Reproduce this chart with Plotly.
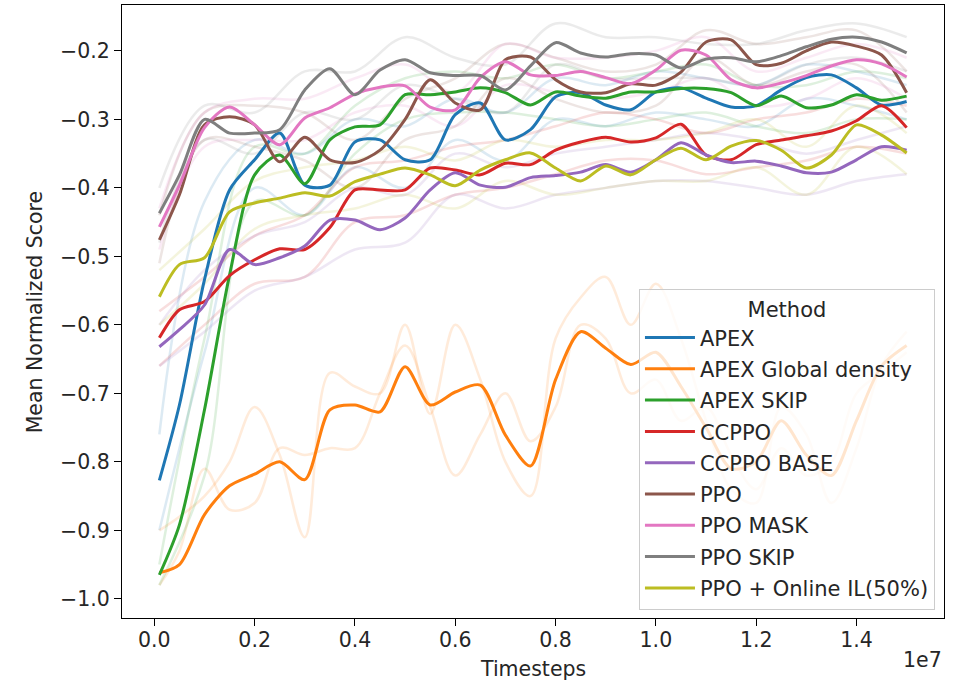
import plotly.graph_objects as go

# ---------------- data (timesteps in units of 1e6) ----------------
X = [0.1, 0.5, 1.0, 1.5, 2.0, 2.5, 3.0, 3.5, 4.0, 4.5, 5.0, 5.5, 6.0, 6.5, 7.0, 7.5,
     8.0, 8.5, 9.0, 9.5, 10.0, 10.5, 11.0, 11.5, 12.0, 12.5, 13.0, 13.5, 14.0, 14.5, 15.0]
SX = [0.1, 1, 2, 3, 4, 5, 6, 7, 8, 9, 10, 11, 12, 13, 14, 15]

METHODS = ["APEX", "APEX Global density", "APEX SKIP", "CCPPO", "CCPPO BASE",
           "PPO", "PPO MASK", "PPO SKIP", "PPO + Online IL(50%)"]
COLORS = ["#1f77b4", "#ff7f0e", "#2ca02c", "#d62728", "#9467bd",
          "#8c564b", "#e377c2", "#7f7f7f", "#bcbd22"]

apex = [-0.827, -0.717, -0.534, -0.403, -0.359, -0.320, -0.396, -0.396, -0.333, -0.330,
        -0.359, -0.359, -0.293, -0.276, -0.330, -0.315, -0.267, -0.261, -0.279, -0.286,
        -0.260, -0.254, -0.269, -0.282, -0.280, -0.257, -0.239, -0.235, -0.254, -0.279, -0.274]
apex_global = [-0.962, -0.950, -0.877, -0.835, -0.818, -0.800, -0.826, -0.724, -0.717, -0.727,
               -0.661, -0.717, -0.698, -0.688, -0.761, -0.806, -0.680, -0.610, -0.634, -0.658,
               -0.640, -0.690, -0.750, -0.810, -0.800, -0.740, -0.790, -0.820, -0.740, -0.660, -0.630]
apex_skip = [-0.965, -0.892, -0.724, -0.527, -0.381, -0.352, -0.394, -0.330, -0.311, -0.308,
             -0.264, -0.264, -0.260, -0.254, -0.261, -0.279, -0.260, -0.266, -0.269, -0.260,
             -0.260, -0.255, -0.255, -0.261, -0.280, -0.266, -0.283, -0.279, -0.264, -0.272, -0.266]
ccppo = [-0.619, -0.578, -0.566, -0.528, -0.505, -0.489, -0.490, -0.458, -0.403, -0.403,
         -0.403, -0.371, -0.374, -0.381, -0.364, -0.366, -0.345, -0.333, -0.326, -0.333,
         -0.327, -0.307, -0.352, -0.359, -0.337, -0.330, -0.324, -0.317, -0.302, -0.280, -0.312]
ccppo_base = [-0.632, -0.607, -0.571, -0.490, -0.512, -0.502, -0.485, -0.447, -0.447, -0.461,
              -0.444, -0.403, -0.378, -0.396, -0.399, -0.385, -0.382, -0.377, -0.366, -0.377,
              -0.359, -0.334, -0.352, -0.363, -0.361, -0.368, -0.378, -0.377, -0.359, -0.340, -0.345]
ppo = [-0.476, -0.410, -0.308, -0.296, -0.308, -0.362, -0.326, -0.359, -0.363, -0.345,
       -0.300, -0.242, -0.276, -0.286, -0.213, -0.209, -0.242, -0.260, -0.261, -0.248,
       -0.250, -0.231, -0.187, -0.184, -0.220, -0.218, -0.200, -0.187, -0.193, -0.206, -0.261]
ppo_mask = [-0.457, -0.396, -0.312, -0.282, -0.308, -0.337, -0.298, -0.283, -0.263, -0.253,
            -0.251, -0.282, -0.286, -0.239, -0.216, -0.235, -0.236, -0.230, -0.239, -0.248,
            -0.228, -0.199, -0.206, -0.242, -0.254, -0.247, -0.236, -0.222, -0.213, -0.219, -0.238]
ppo_skip = [-0.437, -0.381, -0.300, -0.320, -0.320, -0.315, -0.257, -0.226, -0.264, -0.228,
            -0.213, -0.232, -0.236, -0.236, -0.257, -0.222, -0.188, -0.203, -0.209, -0.204,
            -0.206, -0.225, -0.212, -0.210, -0.216, -0.207, -0.194, -0.183, -0.180, -0.187, -0.203]
ppo_il = [-0.559, -0.512, -0.502, -0.435, -0.422, -0.415, -0.407, -0.412, -0.391, -0.380,
          -0.371, -0.381, -0.397, -0.374, -0.359, -0.349, -0.371, -0.390, -0.368, -0.381,
          -0.359, -0.342, -0.359, -0.339, -0.331, -0.345, -0.371, -0.352, -0.308, -0.323, -0.349]
MEANS = [apex, apex_global, apex_skip, ccppo, ccppo_base, ppo, ppo_mask, ppo_skip, ppo_il]

# individual runs (faint lines) -- coarse grid SX, except APEX Global density on X
apex_runs = [
    [-0.76, -0.42, -0.33, -0.35, -0.30, -0.31, -0.27, -0.29, -0.24, -0.25, -0.23, -0.24, -0.25, -0.22, -0.23, -0.25],
    [-0.90, -0.64, -0.40, -0.44, -0.37, -0.40, -0.33, -0.36, -0.30, -0.31, -0.29, -0.30, -0.31, -0.27, -0.28, -0.30]]
apex_global_runs = [
    [-0.90, -0.88, -0.85, -0.80, -0.72, -0.79, -0.91, -0.67, -0.69, -0.70, -0.60, -0.73, -0.60, -0.68, -0.80, -0.85,
     -0.62, -0.56, -0.53, -0.60, -0.54, -0.62, -0.74, -0.84, -0.86, -0.72, -0.76, -0.86, -0.78, -0.66, -0.61],
    [-0.98, -0.93, -0.81, -0.87, -0.86, -0.78, -0.79, -0.78, -0.78, -0.70, -0.63, -0.72, -0.82, -0.76, -0.70, -0.77,
     -0.72, -0.60, -0.62, -0.70, -0.68, -0.74, -0.72, -0.79, -0.84, -0.78, -0.82, -0.80, -0.70, -0.67, -0.64]]
apex_skip_runs = [
    [-0.95, -0.62, -0.34, -0.35, -0.28, -0.24, -0.23, -0.24, -0.22, -0.24, -0.23, -0.22, -0.25, -0.25, -0.23, -0.24],
    [-0.98, -0.82, -0.42, -0.44, -0.35, -0.30, -0.29, -0.29, -0.30, -0.31, -0.30, -0.29, -0.31, -0.32, -0.30, -0.30]]
ccppo_runs = [
    [-0.58, -0.53, -0.47, -0.44, -0.37, -0.36, -0.34, -0.33, -0.31, -0.29, -0.30, -0.32, -0.30, -0.29, -0.27, -0.28],
    [-0.66, -0.60, -0.54, -0.53, -0.45, -0.44, -0.41, -0.40, -0.38, -0.36, -0.36, -0.38, -0.37, -0.36, -0.34, -0.35]]
ccppo_base_runs = [
    [-0.60, -0.52, -0.47, -0.45, -0.40, -0.41, -0.35, -0.37, -0.35, -0.34, -0.33, -0.32, -0.33, -0.35, -0.33, -0.31],
    [-0.66, -0.61, -0.55, -0.53, -0.49, -0.48, -0.41, -0.43, -0.41, -0.40, -0.39, -0.39, -0.40, -0.41, -0.39, -0.38]]
ppo_runs = [
    [-0.44, -0.29, -0.28, -0.29, -0.33, -0.27, -0.24, -0.19, -0.21, -0.23, -0.22, -0.17, -0.19, -0.18, -0.17, -0.23],
    [-0.51, -0.33, -0.34, -0.36, -0.40, -0.33, -0.31, -0.24, -0.27, -0.29, -0.28, -0.21, -0.25, -0.23, -0.22, -0.29]]
ppo_mask_runs = [
    [-0.43, -0.29, -0.27, -0.27, -0.24, -0.22, -0.26, -0.19, -0.21, -0.21, -0.20, -0.18, -0.23, -0.21, -0.19, -0.21],
    [-0.49, -0.34, -0.33, -0.33, -0.29, -0.28, -0.31, -0.25, -0.26, -0.27, -0.26, -0.24, -0.28, -0.27, -0.24, -0.27]]
ppo_skip_runs = [
    [-0.40, -0.28, -0.29, -0.23, -0.23, -0.18, -0.21, -0.22, -0.16, -0.18, -0.18, -0.19, -0.19, -0.17, -0.16, -0.18],
    [-0.48, -0.33, -0.35, -0.29, -0.30, -0.25, -0.27, -0.29, -0.22, -0.24, -0.24, -0.24, -0.25, -0.22, -0.21, -0.23]]
ppo_il_runs = [
    [-0.52, -0.46, -0.39, -0.37, -0.36, -0.34, -0.36, -0.33, -0.34, -0.33, -0.33, -0.32, -0.30, -0.34, -0.28, -0.32],
    [-0.60, -0.54, -0.46, -0.44, -0.43, -0.41, -0.43, -0.39, -0.41, -0.40, -0.39, -0.39, -0.37, -0.41, -0.34, -0.38]]
RUNS = [apex_runs, apex_global_runs, apex_skip_runs, ccppo_runs, ccppo_base_runs,
        ppo_runs, ppo_mask_runs, ppo_skip_runs, ppo_il_runs]

X_TICKS = [0, 2, 4, 6, 8, 10, 12, 14]
X_TICK_LABELS = ["0.0", "0.2", "0.4", "0.6", "0.8", "1.0", "1.2", "1.4"]
Y_TICKS = [-1.0, -0.9, -0.8, -0.7, -0.6, -0.5, -0.4, -0.3, -0.2]
Y_TICK_LABELS = ["\u22121.0", "\u22120.9", "\u22120.8", "\u22120.7", "\u22120.6",
                 "\u22120.5", "\u22120.4", "\u22120.3", "\u22120.2"]

FONT = "DejaVu Sans"
FS = 20.5
LFS = 21
TXT = "#262626"

fig = go.Figure()

# faint individual runs
for name, color, runs in zip(METHODS, COLORS, RUNS):
    for r in runs:
        xs = X if len(r) == len(X) else SX
        fig.add_trace(go.Scatter(
            x=xs, y=r, mode="lines", line=dict(color=color, width=2.5, shape="spline", smoothing=1.0),
            opacity=0.15, showlegend=False, hoverinfo="skip"))

# mean lines
for i, (name, color, ys) in enumerate(zip(METHODS, COLORS, MEANS)):
    fig.add_trace(go.Scatter(
        x=X, y=ys, mode="lines", name=name, legendgroup=f"g{i}",
        line=dict(color=color, width=3, shape="spline", smoothing=0.8)))

axis_common = dict(showgrid=False, zeroline=False, showline=True, linecolor="black",
                   linewidth=1.2, mirror=True, ticks="outside", ticklen=7, tickwidth=1.2,
                   tickcolor="black", tickfont=dict(family=FONT, size=FS, color=TXT))

fig.update_xaxes(range=[-0.645, 15.745], tickvals=X_TICKS, ticktext=X_TICK_LABELS,
                 ticklabelstandoff=-4, **axis_common)
fig.update_yaxes(range=[-1.028, -0.133], tickvals=Y_TICKS, ticktext=Y_TICK_LABELS, **axis_common)

fig.update_layout(
    width=961, height=685,
    margin=dict(l=122, r=17, t=5, b=67, autoexpand=False),
    paper_bgcolor="white", plot_bgcolor="white",
    font=dict(family=FONT, size=FS, color=TXT),
    legend=dict(
        title=dict(text="Method", side="top center", font=dict(family=FONT, size=LFS, color=TXT)),
        x=0.989, xanchor="right", y=0.013, yanchor="bottom",
        bgcolor="rgba(255,255,255,0.8)", bordercolor="#cccccc", borderwidth=1,
        font=dict(family=FONT, size=LFS, color=TXT),
        tracegroupgap=1, itemwidth=50,
    ),
    annotations=[
        dict(text="Timesteps", xref="paper", yref="paper", x=0.5, y=-0.083,
             xanchor="center", yanchor="middle", showarrow=False,
             font=dict(family=FONT, size=FS, color=TXT)),
        dict(text="Mean Normalized Score", xref="paper", yref="paper", x=-0.106, y=0.5,
             xanchor="center", yanchor="middle", textangle=-90, showarrow=False,
             font=dict(family=FONT, size=FS, color=TXT)),
        dict(text="1e7", xref="paper", yref="paper", x=1.0, y=-0.068,
             xanchor="right", yanchor="middle", showarrow=False,
             font=dict(family=FONT, size=FS, color=TXT)),
    ],
)

fig.write_html("out.html", config={"displayModeBar": False},
               post_script="document.body.style.margin='0';document.body.style.overflow='hidden';")
